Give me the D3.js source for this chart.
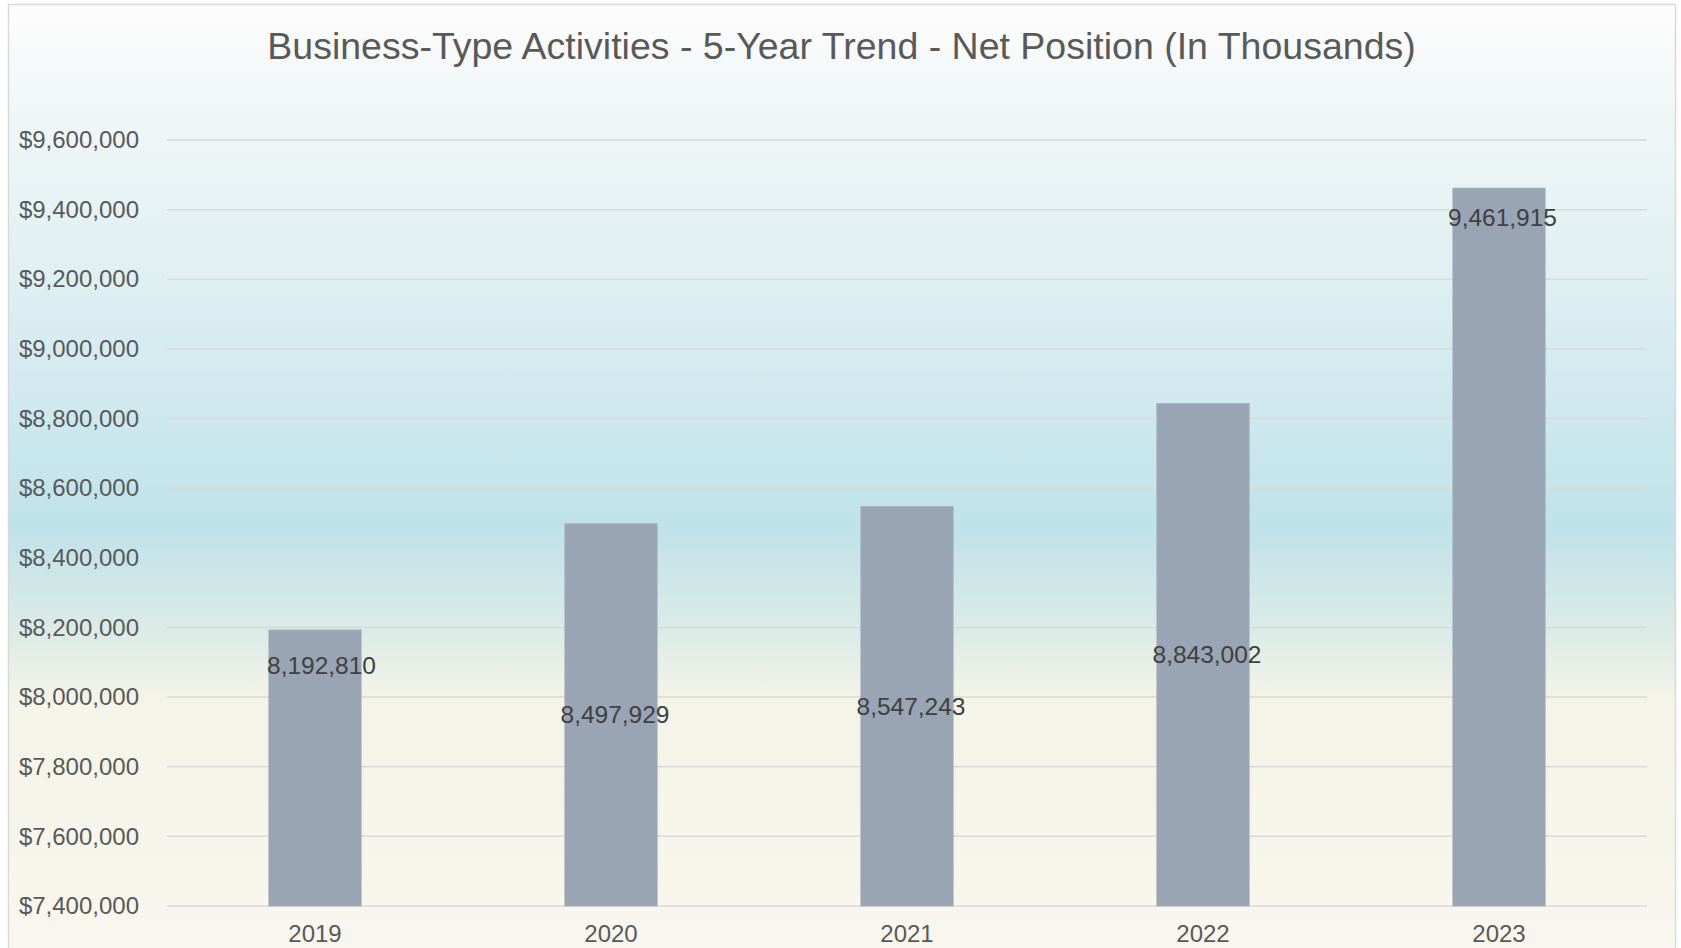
<!DOCTYPE html>
<html>
<head>
<meta charset="utf-8">
<script src="https://cdn.jsdelivr.net/npm/d3@7"></script>
<style>
  html, body { margin: 0; padding: 0; background: #ffffff; overflow: hidden; }
  svg { display: block; font-family: "Liberation Sans", Arial, sans-serif; }
</style>
</head>
<body>
<script>
// chart data
const years = ["2019", "2020", "2021", "2022", "2023"];
const netPosition = [8192810, 8497929, 8547243, 8843002, 9461915];
const yTicks = [7400000, 7600000, 7800000, 8000000, 8200000, 8400000,
  8600000, 8800000, 9000000, 9200000, 9400000, 9600000];
const chartTitle = "Business-Type Activities - 5-Year Trend - Net Position (In Thousands)";

const width = 1681, height = 948;
const plot = { left: 167, right: 1647, top: 140, bottom: 906 };

// labels were dragged around by hand in the original, so each one has its own nudge
const labelDrop = [35, 191, 200, 251, 29];
const labelShift = [6.5, 4, 4, 4, 3.5];

const svg = d3.select("body").append("svg")
  .attr("width", width)
  .attr("height", height);

const defs = svg.append("defs");
const grad = defs.append("linearGradient")
  .attr("id", "bg")
  .attr("gradientUnits", "userSpaceOnUse")
  .attr("x1", 0).attr("y1", 4)
  .attr("x2", 0).attr("y2", 948);
[
  [0, "#fdfdfc"],
  [0.08, "#f4f8f8"],
  [0.3, "#deeff2"],
  [0.555, "#bfe2ea"],
  [0.665, "#dcebe6"],
  [0.74, "#f5f4e8"],
  [1, "#f8f6ee"]
].forEach(([o, c]) => grad.append("stop").attr("offset", o).attr("stop-color", c));

// chart area frame
svg.append("rect")
  .attr("x", 8.5).attr("y", 4.5)
  .attr("width", 1667).attr("height", 960)
  .attr("fill", "url(#bg)")
  .attr("stroke", "#d9d9d9")
  .attr("stroke-width", 1.5);

const x = d3.scaleBand()
  .domain(years)
  .range([plot.left, plot.right])
  .paddingInner(0.688)
  .paddingOuter(0.344);

const y = d3.scaleLinear()
  .domain([d3.min(yTicks), d3.max(yTicks)])
  .range([plot.bottom, plot.top]);

// gridlines
svg.append("g")
  .selectAll("line")
  .data(yTicks)
  .join("line")
  .attr("x1", plot.left).attr("x2", plot.right)
  .attr("y1", d => y(d)).attr("y2", d => y(d))
  .attr("stroke", "#d9d9d9")
  .attr("stroke-width", 1.5);

// y axis labels
const fmt = d3.format(",");
const yAxis = svg.append("g")
  .attr("transform", `translate(${plot.left - 28},0)`)
  .call(d3.axisLeft(y).tickValues(yTicks).tickFormat(d => "$" + fmt(d)).tickSize(0).tickPadding(0));
yAxis.select(".domain").remove();
yAxis.selectAll("text")
  .attr("fill", "#595959")
  .attr("font-size", "24px")
  .attr("font-family", "'Liberation Sans', Arial, sans-serif");

// bars
svg.append("g")
  .selectAll("rect")
  .data(netPosition)
  .join("rect")
  .attr("x", (d, i) => x(years[i]))
  .attr("y", d => y(d))
  .attr("width", x.bandwidth())
  .attr("height", d => y.range()[0] - y(d))
  .attr("fill", "#99a4b4")
  .attr("stroke", "#a7b1bf")
  .attr("stroke-width", 0.8);

// x axis labels
const xAxis = svg.append("g")
  .attr("transform", `translate(0,${plot.bottom})`)
  .call(d3.axisBottom(x).tickSize(0).tickPadding(0));
xAxis.select(".domain").remove();
xAxis.selectAll("text")
  .attr("dy", null)
  .attr("y", 36)
  .attr("fill", "#595959")
  .attr("font-size", "24px")
  .attr("font-family", "'Liberation Sans', Arial, sans-serif");

// data labels
svg.append("g")
  .selectAll("text")
  .data(netPosition)
  .join("text")
  .attr("x", (d, i) => x(years[i]) + x.bandwidth() / 2 + labelShift[i])
  .attr("y", (d, i) => y(d) + labelDrop[i])
  .attr("dy", "0.35em")
  .attr("text-anchor", "middle")
  .attr("fill", "#404040")
  .attr("font-size", "24.5px")
  .text(d => fmt(d));

// title
svg.append("text")
  .attr("x", 841.5)
  .attr("y", 59)
  .attr("text-anchor", "middle")
  .attr("fill", "#595959")
  .attr("font-size", "37.5px")
  .text(chartTitle);
</script>
</body>
</html>
